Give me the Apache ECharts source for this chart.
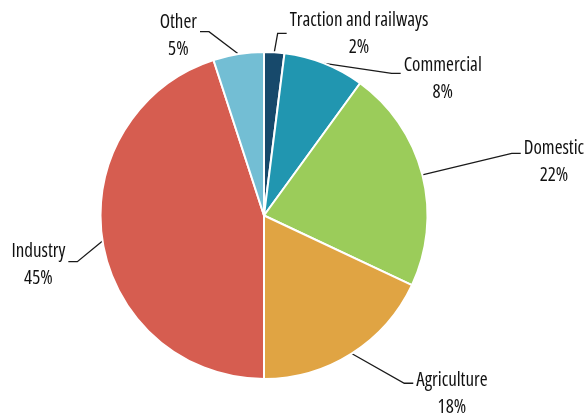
<!DOCTYPE html>
<html>
<head>
<meta charset="utf-8">
<script src="https://cdn.jsdelivr.net/npm/echarts@6/dist/echarts.min.js"></script>
<style>
  html, body { margin: 0; padding: 0; background: #ffffff; }
  #chart { width: 586px; height: 417px; }
</style>
</head>
<body>
<div id="chart"></div>
<script>
// Electricity consumption by sector (share of total, %)
const categories = ['Traction and railways', 'Commercial', 'Domestic', 'Agriculture', 'Industry', 'Other'];
const shares = [2, 8, 22, 18, 45, 5];
const sliceColors = ['#17496b', '#2196b0', '#9bcc5a', '#e0a443', '#d65d50', '#73bed4'];

// Leader-line geometry for each sector label: radial length, horizontal length,
// and extra top padding that drops the text slightly below the line end.
const leaderLayout = {
  'Traction and railways': { length: 19, length2: 11.2, pad: 2 },
  'Commercial':            { length: -10.6, length2: 80.4, pad: 12 },
  'Domestic':              { length: 86.6, length2: 14.5, pad: 17 },
  'Agriculture':           { length: 35.2, length2: 42.8, pad: 21 },
  'Industry':              { length: 131.8, length2: -96, pad: 7 },
  'Other':                 { length: 22.6, length2: 34.9, pad: 9 }
};

// Narrow lettering: the variable Open Sans face at its condensed width
const labelFont = '"Open Sans", "Noto Sans", sans-serif';
const labelWeight = '500 condensed';
const elbowTail = 9;

const chart = echarts.init(document.getElementById('chart'), null, { renderer: 'canvas' });

const seriesData = categories.map((name, i) => {
  const lay = leaderLayout[name];
  return {
    name: name,
    value: shares[i],
    itemStyle: { color: sliceColors[i] },
    label: { padding: [lay.pad, 0, 0, 0] },
    labelLine: { length: lay.length, length2: lay.length2 }
  };
});

chart.setOption({
  animation: false,
  backgroundColor: '#ffffff',
  series: [{
    type: 'pie',
    center: [264, 215.5],
    radius: [0, 163.5],
    startAngle: 90,
    clockwise: true,
    avoidLabelOverlap: false,
    itemStyle: { borderColor: '#ffffff', borderWidth: 2 },
    label: {
      show: true,
      position: 'outside',
      alignTo: 'none',
      distanceToLabelLine: 3,
      formatter: p => '{n|' + p.name + '}\n{n|' + p.value + '%}',
      rich: {
        n: {
          align: 'center',
          fontFamily: labelFont,
          fontWeight: labelWeight,
          fontSize: 19,
          lineHeight: 27,
          color: '#111111'
        }
      }
    },
    labelLine: {
      show: true,
      smooth: false,
      lineStyle: { color: '#1a1a1a', width: 1.3 }
    },
    // Straight leader from the slice edge to a short horizontal tail at the label
    labelLayout: function (params) {
      const pts = params.labelLinePoints;
      if (!pts || pts.length < 3) { return {}; }
      const side = params.align === 'right' ? -1 : 1;
      const end = pts[2];
      return {
        labelLinePoints: [pts[0], [end[0] - side * elbowTail, end[1]], end]
      };
    },
    emphasis: { disabled: true },
    data: seriesData
  }]
});
</script>
</body>
</html>
